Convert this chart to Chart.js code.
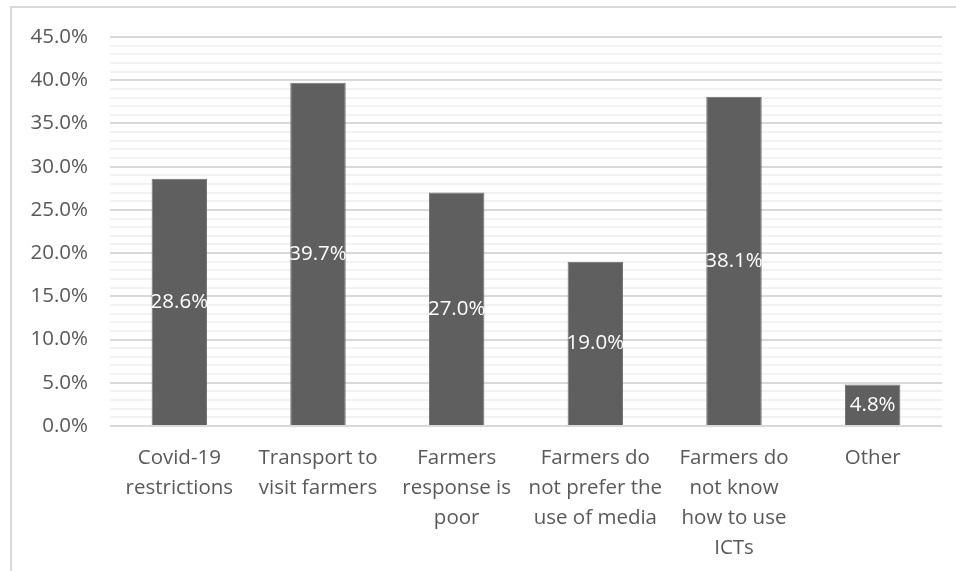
<!DOCTYPE html>
<html>
<head>
<meta charset="utf-8">
<script src="https://cdn.jsdelivr.net/npm/chart.js@4"></script>
<style>
  html, body { margin: 0; padding: 0; background: #fff; overflow: hidden; }
  #frame {
    position: absolute; left: 10px; top: 6px;
    width: 2000px; height: 2000px;
    border: 2px solid #d9d9d9;
  }
  #wrap { position: absolute; left: 0; top: 0; width: 956px; height: 571px; }
</style>
</head>
<body>
<div id="frame"></div>
<div id="wrap"><canvas id="chart1"></canvas></div>
<script>
const categories = [
  ['Covid-19', 'restrictions'],
  ['Transport to', 'visit farmers'],
  ['Farmers', 'response is', 'poor'],
  ['Farmers do', 'not prefer the', 'use of media'],
  ['Farmers do', 'not know', 'how to use', 'ICTs'],
  ['Other']
];
const percentValues = [28.6, 39.7, 27.0, 19.0, 38.1, 4.8];

const textGray = '#595959';
const fontFamily = '"Open Sans", "Noto Sans", sans-serif';

// labels in the middle of each bar
const barLabels = {
  id: 'barLabels',
  afterDatasetsDraw(chart) {
    const c = chart.ctx;
    const meta = chart.getDatasetMeta(0);
    c.save();
    c.fillStyle = '#ffffff';
    c.font = '20.5px ' + fontFamily;
    c.textAlign = 'center';
    c.textBaseline = 'middle';
    meta.data.forEach(function(bar, i) {
      const y = (bar.y + bar.base) / 2;
      c.fillText(percentValues[i].toFixed(1) + '%', bar.x, y);
    });
    c.restore();
  }
};

const ctx1 = document.getElementById('chart1');

new Chart(ctx1, {
  type: 'bar',
  data: {
    labels: categories,
    datasets: [{
      data: percentValues,
      backgroundColor: '#5f5f5f',
      borderColor: '#6f6f6f',
      borderWidth: 1,
      categoryPercentage: 1,
      barPercentage: 0.4
    }]
  },
  options: {
    responsive: true,
    maintainAspectRatio: false,
    animation: false,
    layout: {
      padding: { top: 37, right: 14, left: 0, bottom: 0 }
    },
    plugins: {
      legend: { display: false },
      tooltip: { enabled: false }
    },
    scales: {
      x: {
        grid: { display: false, drawTicks: false },
        border: { display: false },
        ticks: {
          color: textGray,
          font: { family: fontFamily, size: 20.5, lineHeight: 1.46 },
          padding: 17,
          maxRotation: 0,
          autoSkip: false
        },
        afterFit(scale) { scale.height = 145; }
      },
      y: {
        min: 0,
        max: 45,
        grid: {
          drawTicks: false,
          lineWidth: 2,
          color: function(c) {
            return c.tick.value % 5 === 0 ? '#d9d9d9' : '#f2f2f2';
          }
        },
        border: { display: false },
        ticks: {
          stepSize: 1,
          autoSkip: false,
          color: textGray,
          font: { family: fontFamily, size: 20.5 },
          padding: 22,
          callback: function(v) {
            return v % 5 === 0 ? v.toFixed(1) + '%' : '';
          }
        },
        afterFit(scale) { scale.width = 110; }
      }
    }
  },
  plugins: [barLabels]
});
</script>
</body>
</html>
